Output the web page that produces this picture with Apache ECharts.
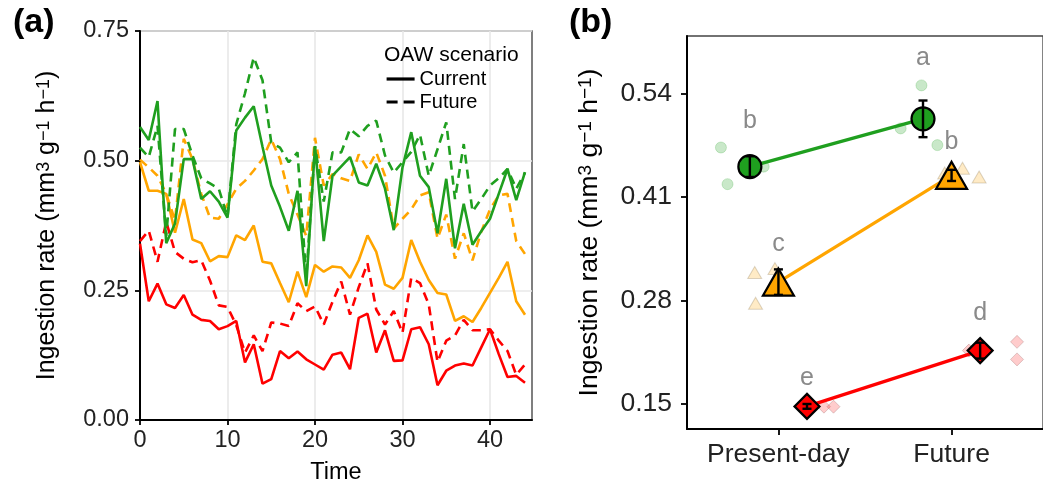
<!DOCTYPE html>
<html><head><meta charset="utf-8">
<script src="https://cdn.jsdelivr.net/npm/echarts@6/dist/echarts.min.js"></script>
<style>html,body{margin:0;padding:0;background:#fff}#c{width:1043px;height:490px}</style>
</head><body><div id="c"></div>
<script>
// ---------- Panel (a) data ----------
const time = [0,1,2,3,4,5,6,7,8,9,10,11,12,13,14,15,16,17,18,19,20,21,22,23,24,25,26,27,28,29,30,31,32,33,34,35,36,37,38,39,40,41,42,43,44];
const greenCurrent = [0.565,0.540,0.615,0.341,0.379,0.503,0.503,0.426,0.441,0.421,0.390,0.558,0.583,0.605,0.527,0.452,0.411,0.365,0.442,0.258,0.528,0.345,0.471,0.489,0.507,0.458,0.452,0.494,0.446,0.366,0.487,0.555,0.471,0.449,0.360,0.465,0.331,0.417,0.338,0.364,0.388,0.436,0.484,0.424,0.478];
const greenFuture = [0.525,0.507,0.567,0.355,0.561,0.561,0.510,0.466,0.456,0.446,0.391,0.570,0.630,0.699,0.655,0.535,0.525,0.497,0.516,0.274,0.528,0.421,0.516,0.516,0.561,0.547,0.567,0.577,0.510,0.477,0.497,0.517,0.550,0.471,0.522,0.574,0.426,0.532,0.402,0.426,0.452,0.466,0.484,0.446,0.477];
const orangeCurrent = [0.497,0.442,0.442,0.436,0.361,0.426,0.348,0.341,0.306,0.316,0.314,0.356,0.347,0.375,0.305,0.302,0.264,0.227,0.286,0.237,0.299,0.286,0.296,0.294,0.274,0.308,0.356,0.324,0.261,0.253,0.274,0.347,0.305,0.270,0.245,0.242,0.191,0.200,0.189,0.216,0.245,0.274,0.305,0.229,0.203];
const orangeFuture = [0.502,0.487,0.471,0.436,0.385,0.542,0.503,0.436,0.390,0.388,0.416,0.446,0.461,0.481,0.503,0.541,0.503,0.436,0.396,0.355,0.544,0.452,0.474,0.466,0.461,0.512,0.484,0.516,0.471,0.369,0.388,0.406,0.433,0.439,0.350,0.396,0.311,0.360,0.308,0.363,0.406,0.433,0.436,0.345,0.320];
const redCurrent = [0.340,0.229,0.263,0.223,0.216,0.241,0.203,0.193,0.191,0.175,0.181,0.191,0.111,0.146,0.070,0.079,0.133,0.119,0.132,0.117,0.107,0.097,0.126,0.130,0.098,0.197,0.205,0.130,0.173,0.114,0.115,0.175,0.179,0.146,0.067,0.095,0.105,0.109,0.105,0.140,0.175,0.127,0.083,0.085,0.072];
const redFuture = [0.345,0.365,0.305,0.382,0.324,0.311,0.304,0.308,0.269,0.221,0.218,0.183,0.130,0.163,0.133,0.188,0.186,0.181,0.225,0.210,0.219,0.184,0.228,0.267,0.203,0.256,0.302,0.213,0.184,0.210,0.168,0.274,0.264,0.223,0.112,0.153,0.163,0.193,0.173,0.173,0.175,0.153,0.133,0.087,0.107];
const yTicksA = [0, 0.25, 0.5, 0.75];
const xTicksA = [0, 10, 20, 30, 40];

// ---------- Panel (b) data ----------
const groups = ['Present-day', 'Future'];
const yTicksB = [0.15, 0.28, 0.41, 0.54];
const meanGreen = [0.448, 0.508];
const seGreen = [0.013, 0.023];
const meanOrange = [0.303, 0.437];
const seOrange = [0.016, 0.007];
const meanRed = [0.147, 0.217];
const seRed = [0.003, 0.010];
const repGreen = [[0.472, 0.426, 0.448], [0.550, 0.496, 0.475]];
const repOrange = [[0.315, 0.320, 0.2765], [0.446, 0.435, 0.440]];
const repRed = [[0.1466, 0.1466, 0.147], [0.228, 0.206, 0.217]];
const lettersGreen = ['b', 'a'];
const lettersOrange = ['c', 'b'];
const lettersRed = ['e', 'd'];
const letterYGreen = [0.505, 0.584];
const letterYOrange = [0.351, 0.479];
const letterYRed = [0.182, 0.264];

// ---------- styles / positions ----------
const C_GREEN = '#1f9f1f', C_ORANGE = '#ffa500', C_RED = '#ff0000';
const dodge = { green: -0.165, orange: 0, red: 0.165 };
const jitterGreen = [[-0.332, -0.294, -0.085], [-0.174, -0.294, -0.082]];
const jitterOrange = [[-0.137, -0.02, -0.132], [0.063, 0.159, -0.04]];
const jitterRed = [[0.263, 0.318, 0.20], [0.378, 0.378, 0.10]];
const FONT = 'Liberation Sans, Arial, sans-serif';
const DASH = [9, 6];

const pairs = arr => arr.map((v, i) => [time[i], v]);
function lineA(name, data, color, dashed) {
  return { name, type: 'line', xAxisIndex: 0, yAxisIndex: 0, data: pairs(data), showSymbol: false, symbol: 'none',
    lineStyle: { color, width: 2.6, type: dashed ? DASH : 'solid' }, itemStyle: { color }, silent: true, animation: false, z: 3 };
}
function reps(rep, jit) {
  const out = [];
  rep.forEach((g, gi) => g.forEach((v, k) => out.push([gi + 1 + jit[gi][k], v])));
  return out;
}
function means(m, off) { return m.map((v, i) => [i + 1 + off, v]); }
function errs(m, se, off) { return m.map((v, i) => [i + 1 + off, v - se[i], v + se[i]]); }
function letters(ls, ys, off) { return ls.map((l, i) => [i + 1 + off, ys[i], l]); }

const errRender = (params, api) => {
  const x = api.value(0), p1 = api.coord([x, api.value(1)]), p2 = api.coord([x, api.value(2)]);
  const w = 4.5, st = { stroke: '#000', lineWidth: 2.4 };
  return { type: 'group', children: [
    { type: 'line', shape: { x1: p1[0], y1: p1[1], x2: p2[0], y2: p2[1] }, style: st },
    { type: 'line', shape: { x1: p1[0] - w, y1: p1[1], x2: p1[0] + w, y2: p1[1] }, style: st },
    { type: 'line', shape: { x1: p2[0] - w, y1: p2[1], x2: p2[0] + w, y2: p2[1] }, style: st }
  ]};
};
const letterRender = (params, api) => {
  const p = api.coord([api.value(0), api.value(1)]);
  return { type: 'text', style: { text: String(api.value(2)), x: p[0], y: p[1], fill: '#8a8a8a',
    font: '25px ' + FONT, align: 'center', verticalAlign: 'middle' } };
};

const chart = echarts.init(document.getElementById('c'), null, { renderer: 'canvas' });
const axisLineBlack = { show: true, onZero: false, lineStyle: { color: '#000', width: 2 } };
const nameRich = sz => ({ fontSize: sz, color: '#000', fontFamily: FONT,
  rich: { s: { fontSize: Math.round(sz * 0.72), verticalAlign: 'top', color: '#000', fontFamily: FONT } } });

const option = {
  animation: false,
  backgroundColor: '#fff',
  textStyle: { fontFamily: FONT },
  title: [
    { text: '(a)', left: 8, top: 1, textStyle: { fontSize: 34, fontWeight: 'bold', color: '#000', fontFamily: FONT } },
    { text: '(b)', left: 564, top: 1, textStyle: { fontSize: 34, fontWeight: 'bold', color: '#000', fontFamily: FONT } },
    { text: 'OAW scenario', left: 379, top: 40, textStyle: { fontSize: 21, fontWeight: 'normal', color: '#000', fontFamily: FONT } }
  ],
  legend: {
    data: ['Current', 'Future'], orient: 'vertical', left: 380, top: 64, itemWidth: 28, itemHeight: 14, itemGap: 3,
    itemStyle: { opacity: 0 }, lineStyle: { width: 3.2, color: '#000' },
    textStyle: { fontSize: 20, color: '#000', lineHeight: 20, fontFamily: FONT }, selectedMode: false
  },
  grid: [
    { left: 140, top: 31, width: 392, height: 392, show: true, borderColor: '#555', borderWidth: 1.5, backgroundColor: '#fff' },
    { left: 687, top: 36, width: 370, height: 393, show: true, borderColor: '#444', borderWidth: 1.3, backgroundColor: 'transparent' }
  ],
  xAxis: [
    { gridIndex: 0, type: 'value', min: 0, max: 44.8, interval: 10,
      axisLine: axisLineBlack,
      axisTick: { show: true, length: 5, lineStyle: { color: '#000', width: 1.8 }, customValues: xTicksA },
      axisLabel: { fontSize: 23.5, color: '#222', margin: 9, customValues: xTicksA },
      splitLine: { show: true, lineStyle: { color: '#e8e8e8', width: 1.6 } },
      name: 'Time', nameLocation: 'middle', nameGap: 41, nameTextStyle: { fontSize: 23.5, color: '#000' } },
    { gridIndex: 1, type: 'value', min: 0.472, max: 2.528,
      axisLine: axisLineBlack, axisTick: { show: true, length: 6, lineStyle: { color: '#000', width: 1.8 }, customValues: [1, 2] },
      axisLabel: { fontSize: 26.5, color: '#222', margin: 12, customValues: [1, 2], formatter: v => groups[Math.round(v) - 1] },
      splitLine: { show: false } }
  ],
  yAxis: [
    { gridIndex: 0, type: 'value', min: 0, max: 0.75, interval: 0.25,
      axisLine: axisLineBlack,
      axisTick: { show: true, length: 5, lineStyle: { color: '#000', width: 1.8 }, customValues: yTicksA },
      axisLabel: { fontSize: 23.5, color: '#222', margin: 11, customValues: yTicksA, formatter: v => v.toFixed(2) },
      splitLine: { show: true, lineStyle: { color: '#e8e8e8', width: 1.6 } },
      name: 'Ingestion rate (mm{s|3} g{s|\u22121} h{s|\u22121})', nameLocation: 'middle', nameRotate: 90, nameGap: 80,
      nameTextStyle: nameRich(25) },
    { gridIndex: 1, type: 'value', min: 0.1186, max: 0.612,
      axisLine: axisLineBlack, axisTick: { show: true, length: 6, lineStyle: { color: '#000', width: 1.8 }, customValues: yTicksB },
      axisLabel: { fontSize: 26.5, color: '#222', margin: 15, customValues: yTicksB, formatter: v => v.toFixed(2) },
      splitLine: { show: false },
      name: 'Ingestion rate (mm{s|3} g{s|\u22121} h{s|\u22121})', nameLocation: 'middle', nameRotate: 90, nameGap: 84,
      nameTextStyle: nameRich(26.5) }
  ],
  series: [
    lineA('rc', redCurrent, C_RED, false),
    lineA('rf', redFuture, C_RED, true),
    lineA('oc', orangeCurrent, C_ORANGE, false),
    lineA('of', orangeFuture, C_ORANGE, true),
    lineA('gf', greenFuture, C_GREEN, true),
    lineA('gc', greenCurrent, C_GREEN, false),
    { name: 'Current', type: 'line', xAxisIndex: 0, yAxisIndex: 0, data: [], symbol: 'none', itemStyle: { color: '#000', opacity: 0 }, lineStyle: { color: '#000', width: 3.2, type: 'solid' } },
    { name: 'Future', type: 'line', xAxisIndex: 0, yAxisIndex: 0, data: [], symbol: 'none', itemStyle: { color: '#000', opacity: 0 }, lineStyle: { color: '#000', width: 3.2, type: [11, 6] } },
    // panel b replicates
    { type: 'scatter', xAxisIndex: 1, yAxisIndex: 1, data: reps(repGreen, jitterGreen), symbol: 'circle', symbolSize: 11,
      itemStyle: { color: 'rgba(31,159,31,0.3)', borderColor: 'rgba(31,159,31,0.25)', borderWidth: 1 }, silent: true, z: 2 },
    { type: 'scatter', xAxisIndex: 1, yAxisIndex: 1, data: reps(repOrange, jitterOrange), symbol: 'triangle', symbolSize: [14, 12],
      itemStyle: { color: 'rgba(255,165,0,0.28)', borderColor: 'rgba(110,90,50,0.3)', borderWidth: 1 }, silent: true, z: 2 },
    { type: 'scatter', xAxisIndex: 1, yAxisIndex: 1, data: reps(repRed, jitterRed), symbol: 'diamond', symbolSize: [13, 13],
      itemStyle: { color: 'rgba(255,0,0,0.25)', borderColor: 'rgba(120,60,60,0.3)', borderWidth: 1 }, silent: true, z: 2 },
    // mean lines
    { type: 'line', xAxisIndex: 1, yAxisIndex: 1, data: means(meanGreen, dodge.green), symbol: 'none', lineStyle: { color: C_GREEN, width: 3.2 }, silent: true, z: 3 },
    { type: 'line', xAxisIndex: 1, yAxisIndex: 1, data: means(meanOrange, dodge.orange), symbol: 'none', lineStyle: { color: C_ORANGE, width: 3.2 }, silent: true, z: 3 },
    { type: 'line', xAxisIndex: 1, yAxisIndex: 1, data: means(meanRed, dodge.red), symbol: 'none', lineStyle: { color: C_RED, width: 3.2 }, silent: true, z: 3 },
    // means
    { type: 'scatter', xAxisIndex: 1, yAxisIndex: 1, data: means(meanGreen, dodge.green), symbol: 'circle', symbolSize: 23,
      itemStyle: { color: C_GREEN, borderColor: '#000', borderWidth: 2.2, opacity: 1 }, silent: true, z: 4 },
    { type: 'scatter', xAxisIndex: 1, yAxisIndex: 1, data: means(meanOrange, dodge.orange), symbol: 'triangle', symbolSize: [31, 27],
      itemStyle: { color: C_ORANGE, borderColor: '#000', borderWidth: 2.2, opacity: 1 }, silent: true, z: 4 },
    { type: 'scatter', xAxisIndex: 1, yAxisIndex: 1, data: means(meanRed, dodge.red), symbol: 'diamond', symbolSize: [25, 25],
      itemStyle: { color: C_RED, borderColor: '#000', borderWidth: 2.2, opacity: 1 }, silent: true, z: 4 },
    // error bars
    { type: 'custom', xAxisIndex: 1, yAxisIndex: 1, renderItem: errRender, data: [].concat(errs(meanGreen, seGreen, dodge.green), errs(meanOrange, seOrange, dodge.orange), errs(meanRed, seRed, dodge.red)), silent: true, z: 5 },
    // letters
    { type: 'custom', xAxisIndex: 1, yAxisIndex: 1, renderItem: letterRender, data: [].concat(letters(lettersGreen, letterYGreen, dodge.green), letters(lettersOrange, letterYOrange, dodge.orange), letters(lettersRed, letterYRed, dodge.red)), silent: true, z: 5 }
  ]
};
chart.setOption(option);
</script>
</body></html>
